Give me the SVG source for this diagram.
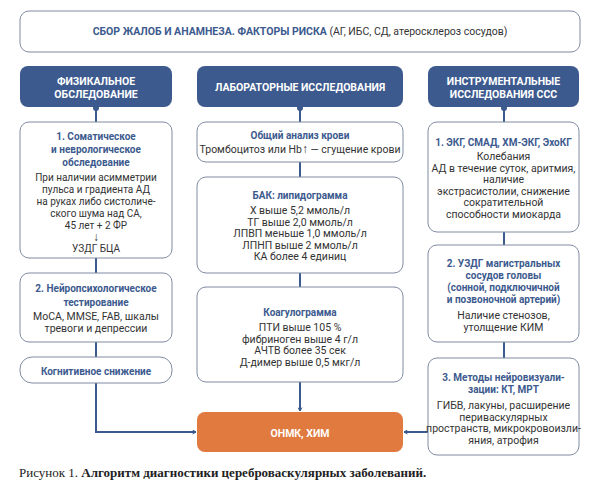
<svg xmlns="http://www.w3.org/2000/svg" width="600" height="485" viewBox="0 0 600 485">
<defs>
<style>
.box{fill:#fff;stroke:#7f8ca3;stroke-width:1}
.hdr{fill:#3c5a8e}
.ht{font-family:Roboto,"Liberation Sans",sans-serif;font-weight:bold;font-size:10.5px;fill:#fff;text-anchor:middle}
.tt{font-family:Roboto,"Liberation Sans",sans-serif;font-weight:bold;font-size:10px;fill:#3c5a8e;text-anchor:middle}
.bt{font-family:Roboto,"Liberation Sans",sans-serif;font-size:10.5px;fill:#333;text-anchor:middle}
.sm{font-size:10px}
.ln{fill:none;stroke:#3c5a8e;stroke-width:2}
.dot{fill:#3c5a8e}
</style>
<marker id="ah" viewBox="0 0 10 10" refX="8" refY="5" markerWidth="5" markerHeight="5" orient="auto" markerUnits="userSpaceOnUse">
<path d="M1,1 L8,5 L1,9" fill="none" stroke="#3c5a8e" stroke-width="2"/>
</marker>
</defs>
<rect width="600" height="485" fill="#fff"/>

<g id="connectors">
<path class="ln" d="M96,107 V122"/>
<path class="ln" d="M96,258 V273"/>
<path class="ln" d="M96,342 V357"/>
<path class="ln" d="M96,383 V432 H196" marker-end="url(#ah)"/>
<path class="ln" d="M300,107 V122"/>
<path class="ln" d="M300,162 V177"/>
<path class="ln" d="M300,273 V287"/>
<path class="ln" d="M300,382 V411" marker-end="url(#ah)"/>
<path class="ln" d="M504,107 V122"/>
<path class="ln" d="M504,232 V245"/>
<path class="ln" d="M504,342 V358"/>
<path class="ln" d="M428,432 H404" marker-end="url(#ah)"/>
<circle class="dot" cx="96" cy="108" r="3"/>
<circle class="dot" cx="300" cy="108" r="3"/>
<circle class="dot" cx="504" cy="108" r="3"/>
</g>

<g id="top">
<rect class="box" x="20" y="11" width="560" height="41" rx="9"/>
<text x="300" y="35" style="font-family:Roboto,'Liberation Sans',sans-serif;font-size:10.5px;text-anchor:middle"><tspan font-weight="bold" fill="#3c5a8e">СБОР ЖАЛОБ И АНАМНЕЗА. ФАКТОРЫ РИСКА</tspan><tspan fill="#333"> (АГ, ИБС, СД, атеросклероз сосудов)</tspan></text>
</g>

<g id="h-phys">
<rect class="hdr" x="20" y="66" width="152" height="41" rx="8"/>
<text class="ht" x="96" y="85">ФИЗИКАЛЬНОЕ</text>
<text class="ht" x="96" y="97.5">ОБСЛЕДОВАНИЕ</text>
</g>
<g id="h-lab">
<rect class="hdr" x="197" y="66" width="206" height="41" rx="8"/>
<text class="ht" x="300" y="91">ЛАБОРАТОРНЫЕ ИССЛЕДОВАНИЯ</text>
</g>
<g id="h-instr">
<rect class="hdr" x="428" y="66" width="151" height="41" rx="8"/>
<text class="ht" x="503.5" y="85">ИНСТРУМЕНТАЛЬНЫЕ</text>
<text class="ht" x="503.5" y="97.5">ИССЛЕДОВАНИЯ ССС</text>
</g>

<g id="l1">
<rect class="box" x="20" y="122" width="152" height="136" rx="9"/>
<text class="tt" x="96" y="140">1. Соматическое</text>
<text class="tt" x="96" y="153">и неврологическое</text>
<text class="tt" x="96" y="166">обследование</text>
<text class="bt sm" x="96" y="181">При наличии асимметрии</text>
<text class="bt sm" x="96" y="193">пульса и градиента АД</text>
<text class="bt sm" x="96" y="205">на руках либо систоличе-</text>
<text class="bt sm" x="96" y="217">ского шума над СА,</text>
<text class="bt sm" x="96" y="229">45 лет + 2 ФР</text>
<text class="bt" x="96" y="241" style="font-weight:bold;font-size:12px">↓</text>
<text class="bt sm" x="96" y="252">УЗДГ БЦА</text>
</g>
<g id="l2">
<rect class="box" x="20" y="273" width="152" height="69" rx="9"/>
<text class="tt" x="96" y="292">2. Нейропсихологическое</text>
<text class="tt" x="96" y="306">тестирование</text>
<text class="bt" x="96" y="320">MoCA, MMSE, FAB, шкалы</text>
<text class="bt" x="96" y="332">тревоги и депрессии</text>
</g>
<g id="l3">
<rect class="box" x="20" y="357" width="152" height="26" rx="12"/>
<text class="tt" x="96" y="374.5">Когнитивное снижение</text>
</g>

<g id="m1">
<rect class="box" x="197" y="122" width="206" height="40" rx="9"/>
<text class="tt" x="300" y="139">Общий анализ крови</text>
<text class="bt" x="300" y="153">Тромбоцитоз или Hb<tspan font-weight="bold" font-size="12px">↑</tspan> — сгущение крови</text>
</g>
<g id="m2">
<rect class="box" x="197" y="177" width="206" height="96" rx="9"/>
<text class="tt" x="300" y="199">БАК: липидограмма</text>
<text class="bt" x="300" y="214">Х выше 5,2 ммоль/л</text>
<text class="bt" x="300" y="225.5">ТГ выше 2,0 ммоль/л</text>
<text class="bt" x="300" y="237">ЛПВП меньше 1,0 ммоль/л</text>
<text class="bt" x="300" y="248.5">ЛПНП выше 2 ммоль/л</text>
<text class="bt" x="300" y="260">КА более 4 единиц</text>
</g>
<g id="m3">
<rect class="box" x="197" y="287" width="206" height="95" rx="9"/>
<text class="tt" x="300" y="316">Коагулограмма</text>
<text class="bt" x="300" y="331">ПТИ выше 105 %</text>
<text class="bt" x="300" y="342.5">фибриноген выше 4 г/л</text>
<text class="bt" x="300" y="354">АЧТВ более 35 сек</text>
<text class="bt" x="300" y="365.5">Д-димер выше 0,5 мкг/л</text>
</g>
<g id="onmk">
<rect x="197" y="412" width="206" height="40" rx="8" fill="#e07a3e"/>
<text class="ht" x="300" y="436.5">ОНМК, ХИМ</text>
</g>

<g id="r1">
<rect class="box" x="428" y="122" width="151" height="110" rx="9"/>
<text class="tt" x="503.5" y="146">1. ЭКГ, СМАД, ХМ-ЭКГ, ЭхоКГ</text>
<text class="bt" x="503.5" y="160">Колебания</text>
<text class="bt" x="503.5" y="171.5">АД в течение суток, аритмия,</text>
<text class="bt" x="503.5" y="183">наличие</text>
<text class="bt" x="503.5" y="194.5">экстрасистолии, снижение</text>
<text class="bt" x="503.5" y="206">сократительной</text>
<text class="bt" x="503.5" y="217.5">способности миокарда</text>
</g>
<g id="r2">
<rect class="box" x="428" y="245" width="151" height="97" rx="9"/>
<text class="tt" x="503.5" y="267">2. УЗДГ магистральных</text>
<text class="tt" x="503.5" y="279">сосудов головы</text>
<text class="tt" x="503.5" y="291">(сонной, подключичной</text>
<text class="tt" x="503.5" y="303">и позвоночной артерий)</text>
<text class="bt" x="503.5" y="319">Наличие стенозов,</text>
<text class="bt" x="503.5" y="331">утолщение КИМ</text>
</g>
<g id="r3">
<rect class="box" x="428" y="358" width="151" height="97" rx="9"/>
<text class="tt" x="503.5" y="381">3. Методы нейровизуали-</text>
<text class="tt" x="503.5" y="393">зации: КТ, МРТ</text>
<text class="bt" x="503.5" y="409">ГИБВ, лакуны, расширение</text>
<text class="bt" x="503.5" y="420.5">периваскулярных</text>
<text class="bt" x="503.5" y="432">пространств, микрокровоизли-</text>
<text class="bt" x="503.5" y="443.5">яния, атрофия</text>
</g>

<text x="19" y="477" style="font-family:'Liberation Serif',serif;font-size:13px;fill:#222">Рисунок 1. <tspan font-weight="bold">Алгоритм диагностики цереброваскулярных заболеваний.</tspan></text>
</svg>
